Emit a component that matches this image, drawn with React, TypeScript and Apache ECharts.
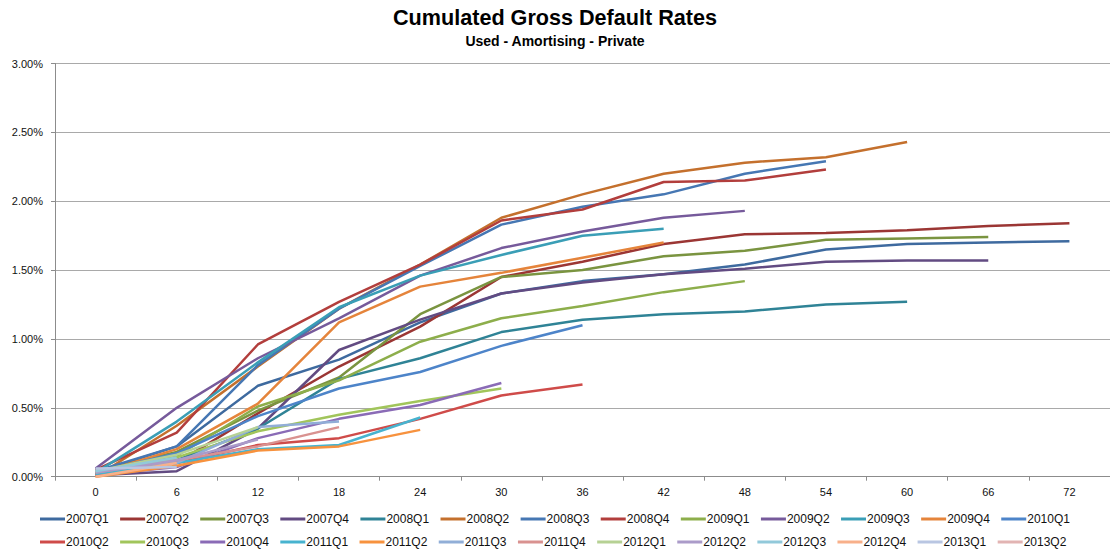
import React, { useEffect, useRef } from "react";
import * as echarts from "echarts";

const months = ["0", "6", "12", "18", "24", "30", "36", "42", "48", "54", "60", "66", "72"];
const yTicks = [0, 0.5, 1, 1.5, 2, 2.5, 3];

const cohorts = [
  "2007Q1", "2007Q2", "2007Q3", "2007Q4", "2008Q1", "2008Q2", "2008Q3", "2008Q4", "2009Q1", "2009Q2", "2009Q3", "2009Q4", "2010Q1",
  "2010Q2", "2010Q3", "2010Q4", "2011Q1", "2011Q2", "2011Q3", "2011Q4", "2012Q1", "2012Q2", "2012Q3", "2012Q4", "2013Q1", "2013Q2",
];

const colors = [
  "#3E6A9F", "#9B3634", "#7A9440", "#624B82", "#2F8396", "#C4702D", "#4677B3", "#B23E3C", "#8DAE4B", "#765A9B", "#3A9EB6", "#E5843B", "#4D84C9",
  "#CF4B49", "#A1C55B", "#8A6BB6", "#47B3CF", "#F7923E", "#91AED7", "#D99290", "#B6D194", "#AB9BC9", "#92C9DA", "#F8B08A", "#B9C6E2", "#E2B4B3",
];

// cumulated gross default rates in %, per 6 months since origination
const s2007Q1 = [0.03, 0.22, 0.66, 0.85, 1.12, 1.33, 1.42, 1.47, 1.54, 1.65, 1.69, 1.70, 1.71];
const s2007Q2 = [0.05, 0.10, 0.46, 0.80, 1.09, 1.45, 1.56, 1.69, 1.76, 1.77, 1.79, 1.82, 1.84];
const s2007Q3 = [0.04, 0.18, 0.48, 0.72, 1.18, 1.45, 1.50, 1.60, 1.64, 1.72, 1.73, 1.74];
const s2007Q4 = [0.01, 0.04, 0.35, 0.92, 1.14, 1.33, 1.41, 1.47, 1.51, 1.56, 1.57, 1.57];
const s2008Q1 = [0.03, 0.12, 0.35, 0.71, 0.86, 1.05, 1.14, 1.18, 1.20, 1.25, 1.27];
const s2008Q2 = [0.0, 0.37, 0.8, 1.22, 1.54, 1.88, 2.05, 2.20, 2.28, 2.32, 2.43];
const s2008Q3 = [0.04, 0.22, 0.81, 1.22, 1.53, 1.83, 1.96, 2.05, 2.20, 2.29];
const s2008Q4 = [0.05, 0.32, 0.96, 1.27, 1.54, 1.86, 1.94, 2.14, 2.15, 2.23];
const s2009Q1 = [0.02, 0.15, 0.51, 0.70, 0.98, 1.15, 1.24, 1.34, 1.42];
const s2009Q2 = [0.06, 0.50, 0.86, 1.15, 1.46, 1.66, 1.78, 1.88, 1.93];
const s2009Q3 = [0.03, 0.40, 0.83, 1.23, 1.46, 1.61, 1.75, 1.80];
const s2009Q4 = [0.02, 0.20, 0.53, 1.12, 1.38, 1.48, 1.59, 1.70];
const s2010Q1 = [0.03, 0.17, 0.44, 0.64, 0.76, 0.95, 1.10];
const s2010Q2 = [0.02, 0.10, 0.23, 0.28, 0.42, 0.59, 0.67];
const s2010Q3 = [0.03, 0.14, 0.33, 0.45, 0.55, 0.64];
const s2010Q4 = [0.01, 0.07, 0.28, 0.42, 0.52, 0.68];
const s2011Q1 = [0.02, 0.10, 0.20, 0.23, 0.43];
const s2011Q2 = [0.0, 0.08, 0.19, 0.22, 0.34];
const s2011Q3 = [0.05, 0.10, 0.36, 0.40];
const s2011Q4 = [0.03, 0.12, 0.22, 0.36];
const s2012Q1 = [0.04, 0.16, 0.36];
const s2012Q2 = [0.03, 0.12, 0.27];
const s2012Q3 = [0.04, 0.14];
const s2012Q4 = [0.0, 0.10];
const s2013Q1 = [0.06, 0.07];
const s2013Q2 = [0.03];

const seriesValues = [
  s2007Q1, s2007Q2, s2007Q3, s2007Q4, s2008Q1, s2008Q2, s2008Q3, s2008Q4, s2009Q1, s2009Q2, s2009Q3, s2009Q4, s2010Q1,
  s2010Q2, s2010Q3, s2010Q4, s2011Q1, s2011Q2, s2011Q3, s2011Q4, s2012Q1, s2012Q2, s2012Q3, s2012Q4, s2013Q1, s2013Q2,
];

const FONT = "'Liberation Sans', Arial, Helvetica, sans-serif";

export default function App() {
  const ref = useRef<HTMLDivElement>(null);
  useEffect(() => {
    if (!ref.current) return;
    const chart = echarts.init(ref.current, undefined, { renderer: "svg" });
    const legendBase = {
      orient: "horizontal" as const,
      left: 40,
      padding: 0,
      icon: "rect",
      itemWidth: 25,
      itemHeight: 3,
      itemGap: 11.4,
      selectedMode: false,
      textStyle: { fontFamily: FONT, fontSize: 12, color: "#111", width: 44, overflow: "none", padding: [0, 0, 0, -4] },
    };
    chart.setOption({
      animation: false,
      backgroundColor: "#ffffff",
      color: colors,
      textStyle: { fontFamily: FONT },
      title: [
        {
          text: "Cumulated Gross Default Rates",
          left: "center",
          top: 6,
          padding: 0,
          textStyle: { fontFamily: FONT, fontSize: 21.6, fontWeight: "bold", color: "#000" },
        },
        {
          text: "Used - Amortising - Private",
          left: "center",
          top: 34,
          padding: 0,
          textStyle: { fontFamily: FONT, fontSize: 14, fontWeight: "bold", color: "#000" },
        },
      ],
      legend: [
        { ...legendBase, top: 513, data: cohorts.slice(0, 13) },
        { ...legendBase, top: 536, data: cohorts.slice(13) },
      ],
      grid: { left: 55, right: -6.5, top: 63.5, bottom: 77.3, containLabel: false },
      xAxis: {
        type: "category",
        data: months,
        boundaryGap: true,
        axisLine: { show: true, lineStyle: { color: "#8c8c8c", width: 1 } },
        axisTick: { show: true, length: 4, lineStyle: { color: "#8c8c8c" } },
        axisLabel: { fontFamily: FONT, fontSize: 11, color: "#111", margin: 10 },
        splitLine: { show: false },
      },
      yAxis: {
        type: "value",
        min: yTicks[0],
        max: yTicks[yTicks.length - 1],
        interval: 0.5,
        axisLine: { show: true, lineStyle: { color: "#8c8c8c", width: 1 } },
        axisTick: { show: true, length: 4, lineStyle: { color: "#8c8c8c" } },
        axisLabel: {
          fontFamily: FONT,
          fontSize: 11,
          color: "#111",
          margin: 12,
          formatter: (v: number) => v.toFixed(2) + "%",
        },
        splitLine: { show: true, lineStyle: { color: "#a9a9a9", width: 1 } },
      },
      series: cohorts.map((name, i) => ({
        name,
        type: "line",
        data: seriesValues[i],
        symbol: "none",
        showSymbol: false,
        smooth: false,
        lineStyle: { width: 2.5, color: colors[i] },
        itemStyle: { color: colors[i] },
        emphasis: { disabled: true },
      })),
    });
    return () => chart.dispose();
  }, []);
  return (
    <div
      ref={ref}
      style={{ position: "absolute", left: 0, top: 0, width: 1110, height: 554, background: "#fff" }}
    />
  );
}
